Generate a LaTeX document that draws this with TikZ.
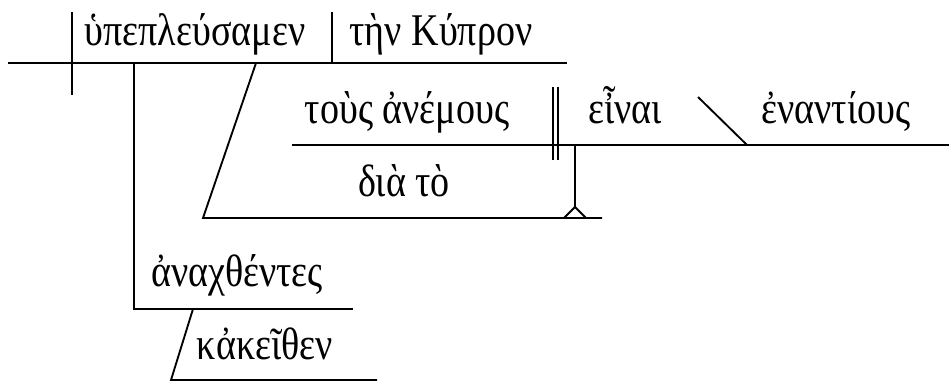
\documentclass[tikz,border=0pt]{standalone}
\usepackage{fontspec}
\setmainfont{Liberation Serif}[FakeStretch=0.84]
\begin{document}
\begin{tikzpicture}[x=0.75pt,y=-0.75pt,line width=1.4pt]
  \tikzstyle{every node}=[font=\fontsize{34}{40}\selectfont,inner sep=0pt,anchor=base]
  \useasboundingbox (0,0) rectangle (949,382);
  % main clause
  \coordinate (mainL) at (8,63);
  \coordinate (mainR) at (567,63);
  \draw (mainL) -- (mainR);
  \draw (72,12) -- (72,95);
  \draw (332,12) -- (332,63);
  \node (verb) at (195,45) {ὑπεπλεύσαμεν};
  \node (obj) at (441,45) {τὴν Κύπρον};
  % participle
  \coordinate (partTop) at (134,63);
  \coordinate (partCorner) at (134,309);
  \coordinate (partR) at (353,309);
  \draw (partTop) -- (partCorner) -- (partR);
  \node (part) at (237,286) {ἀναχθέντες};
  \coordinate (advTop) at (193,309);
  \coordinate (advL) at (171,380);
  \coordinate (advR) at (377,380);
  \draw (advTop) -- (advL) -- (advR);
  \node (adv) at (265,359) {κἀκεῖθεν};
  % prepositional phrase
  \coordinate (prepTop) at (256,63);
  \coordinate (prepL) at (203,218);
  \coordinate (prepR) at (602,218);
  \draw (prepTop) -- (prepL) -- (prepR);
  \node (prep) at (404,196) {διὰ τὸ};
  % infinitive clause on stilt
  \coordinate (infL) at (292,145);
  \coordinate (infR) at (949,145);
  \draw (infL) -- (infR);
  \draw (553,87) -- (553,160);
  \draw (558,87) -- (558,160);
  \draw (698,97) -- (747,145);
  \node (subj) at (407,123) {τοὺς ἀνέμους};
  \node (inf) at (625,123) {εἶναι};
  \node (compl) at (836,123) {ἐναντίους};
  \coordinate (stiltTop) at (575,145);
  \coordinate (stiltFoot) at (575,207);
  \draw (stiltTop) -- (stiltFoot);
  \draw (564,218) -- (stiltFoot) -- (586,218);
\end{tikzpicture}
\end{document}
